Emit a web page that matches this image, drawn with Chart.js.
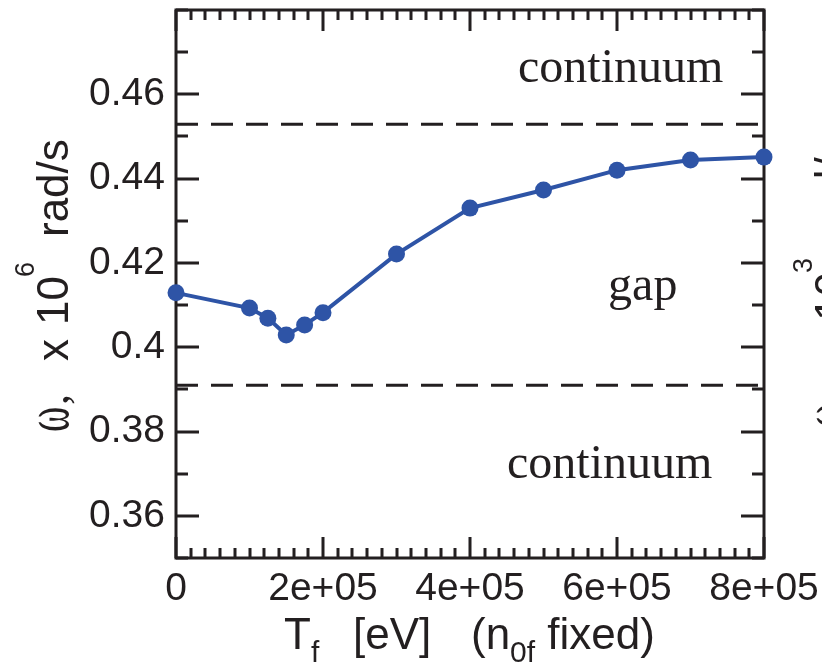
<!DOCTYPE html>
<html>
<head>
<meta charset="utf-8">
<script src="https://cdn.jsdelivr.net/npm/chart.js@4.4.1/dist/chart.umd.min.js"></script>
<style>
  html, body { margin: 0; padding: 0; background: #fff; }
  #wrap { width: 822px; height: 669px; position: relative; }
</style>
</head>
<body>
<div id="wrap"><canvas id="c" width="822" height="669"></canvas></div>
<script>
// ---- data ----
const temperatures = [0, 1e5, 1.25e5, 1.5e5, 1.75e5, 2e5, 3e5, 4e5, 5e5, 6e5, 7e5, 8e5];
const omegaValues  = [0.4129, 0.4093, 0.4069, 0.4029, 0.4053, 0.4082, 0.4221, 0.4330, 0.4373, 0.4420, 0.4444, 0.4451];
const gapUpper = 0.4529;
const gapLower = 0.3910;
const xRange = [0, 8e5];
const yRange = [0.35, 0.48];
const xTickValues = [0, 2e5, 4e5, 6e5, 8e5];
const xTickLabels = ['0', '2e+05', '4e+05', '6e+05', '8e+05'];
const yTickValues = [0.36, 0.38, 0.40, 0.42, 0.44, 0.46];
const yTickLabels = ['0.36', '0.38', '0.4', '0.42', '0.44', '0.46'];
const xMinorStep = 2e4;
const yMinorStep = 0.01;
const regionLabels = ['continuum', 'gap', 'continuum'];
const regionLabelX = [6.05e5, 6.35e5, 5.9e5];
const regionLabelY = [0.4629, 0.4112, 0.3690];

const SANS = '"Liberation Sans", Arial, Helvetica, sans-serif';
const SERIF = '"Liberation Serif", "Times New Roman", serif';
const BLUE = '#2e54a6';
const INK = '#231f20';

function drawAt(ctx, text, font, x, y) {
  ctx.font = font;
  ctx.textAlign = 'left';
  ctx.fillText(text, x, y);
  return x + ctx.measureText(text).width;
}

function drawAxisLabelRotated(ctx, baseX, shift, sup) {
  // rotated -90deg: x' = -pageY, y' = pageX - baseX
  const big = '44px ' + SANS, small = '27px ' + SANS;
  ctx.save();
  ctx.translate(baseX, shift);
  ctx.rotate(-Math.PI / 2);
  // condensed serif omega
  ctx.save();
  ctx.translate(-432, 0);
  ctx.scale(0.6, 1);
  drawAt(ctx, '\u03c9', '64px ' + SERIF, 0, 0);
  ctx.restore();
  drawAt(ctx, ',', '44px ' + SERIF, -405, 0);
  drawAt(ctx, 'x', big, -361, 0);
  drawAt(ctx, '10', big, -325, 0);
  drawAt(ctx, sup, small, -277, -34);
  drawAt(ctx, 'rad/s', big, -237, 0);
  ctx.restore();
}

const framePlugin = {
  id: 'frame',
  beforeDatasetsDraw(chart) {
    const {ctx, chartArea: a, scales: {x, y}} = chart;
    ctx.save();
    ctx.strokeStyle = INK;
    ctx.lineWidth = 3;
    ctx.lineCap = 'butt';
    const eps = 1e-9;
    for (let v = xRange[0]; v <= xRange[1] + eps; v += xMinorStep) {
      const major = xTickValues.some(t => Math.abs(t - v) < 1);
      const len = major ? 21 : 10;
      const px = Math.round(x.getPixelForValue(v));
      ctx.beginPath();
      ctx.moveTo(px, a.bottom); ctx.lineTo(px, a.bottom - len);
      ctx.moveTo(px, a.top); ctx.lineTo(px, a.top + len);
      ctx.stroke();
    }
    for (let k = Math.ceil(yRange[0] / yMinorStep - eps); k * yMinorStep <= yRange[1] + eps; k++) {
      const v = k * yMinorStep;
      const major = yTickValues.some(t => Math.abs(t - v) < 1e-6);
      const len = major ? 23 : 12;
      const py = Math.round(y.getPixelForValue(v));
      ctx.beginPath();
      ctx.moveTo(a.left, py); ctx.lineTo(a.left + len, py);
      ctx.moveTo(a.right, py); ctx.lineTo(a.right - len, py);
      ctx.stroke();
    }
    ctx.strokeRect(a.left, a.top, a.right - a.left, a.bottom - a.top);
    ctx.fillStyle = INK;
    ctx.font = '48px ' + SERIF;
    ctx.textAlign = 'center';
    ctx.textBaseline = 'alphabetic';
    regionLabels.forEach((t, i) => {
      ctx.fillText(t, x.getPixelForValue(regionLabelX[i]), y.getPixelForValue(regionLabelY[i]));
    });
    ctx.restore();
  },
  afterDraw(chart) {
    const {ctx} = chart;
    ctx.save();
    ctx.fillStyle = INK;
    ctx.textBaseline = 'alphabetic';
    const big = '44px ' + SANS, small = '30px ' + SANS;
    // x title
    let cx = drawAt(ctx, 'T', big, 284, 649);
    drawAt(ctx, 'f', small, cx, 662);
    drawAt(ctx, '[eV]', big, 353, 649);
    cx = drawAt(ctx, '(n', big, 471, 649);
    cx = drawAt(ctx, '0f', small, cx, 662);
    drawAt(ctx, ' fixed)', big, cx, 649);
    // y title
    drawAxisLabelRotated(ctx, 68, 0, '6');
    // neighbouring panel's label, clipped at the right edge
    drawAxisLabelRotated(ctx, 846, -4, '3');
    ctx.restore();
  }
};

const ctx = document.getElementById('c').getContext('2d');
new Chart(ctx, {
  type: 'line',
  data: {
    datasets: [
      {
        data: temperatures.map((t, i) => ({x: t, y: omegaValues[i]})),
        borderColor: BLUE,
        backgroundColor: BLUE,
        borderWidth: 4,
        pointRadius: 8.5,
        pointBorderWidth: 0,
        pointBackgroundColor: BLUE,
        tension: 0,
        clip: false,
        order: 0
      },
      {
        data: [{x: xRange[0], y: gapUpper}, {x: xRange[1], y: gapUpper}],
        borderColor: INK, borderWidth: 3, borderDash: [22, 13],
        pointRadius: 0, order: 1
      },
      {
        data: [{x: xRange[0], y: gapLower}, {x: xRange[1], y: gapLower}],
        borderColor: INK, borderWidth: 3, borderDash: [22, 13],
        pointRadius: 0, order: 1
      }
    ]
  },
  options: {
    responsive: false,
    animation: false,
    devicePixelRatio: 1,
    layout: {padding: {left: 0, top: 10, right: 58, bottom: 0}},
    plugins: {legend: {display: false}, tooltip: {enabled: false}},
    scales: {
      x: {
        type: 'linear', min: xRange[0], max: xRange[1],
        afterFit(s) { s.height = 669 - 558; s.paddingLeft = 0; s.paddingRight = 0; },
        afterBuildTicks(s) { s.ticks = xTickValues.map(v => ({value: v})); },
        grid: {display: false, drawTicks: false},
        border: {display: false},
        ticks: {
          padding: 8, color: INK, maxRotation: 0, autoSkip: false,
          font: {family: SANS, size: 39},
          callback: (v) => xTickLabels[xTickValues.indexOf(v)]
        }
      },
      y: {
        type: 'linear', min: yRange[0], max: yRange[1],
        afterFit(s) { s.width = 176; s.paddingTop = 0; s.paddingBottom = 0; },
        afterBuildTicks(s) { s.ticks = yTickValues.map(v => ({value: v})); },
        grid: {display: false, drawTicks: false},
        border: {display: false},
        ticks: {
          padding: 11, color: INK, autoSkip: false,
          font: {family: SANS, size: 39},
          callback: (v) => { const i = yTickValues.findIndex(t => Math.abs(t - v) < 1e-6); return i >= 0 ? yTickLabels[i] : ''; }
        }
      }
    }
  },
  plugins: [framePlugin]
});
</script>
</body>
</html>
